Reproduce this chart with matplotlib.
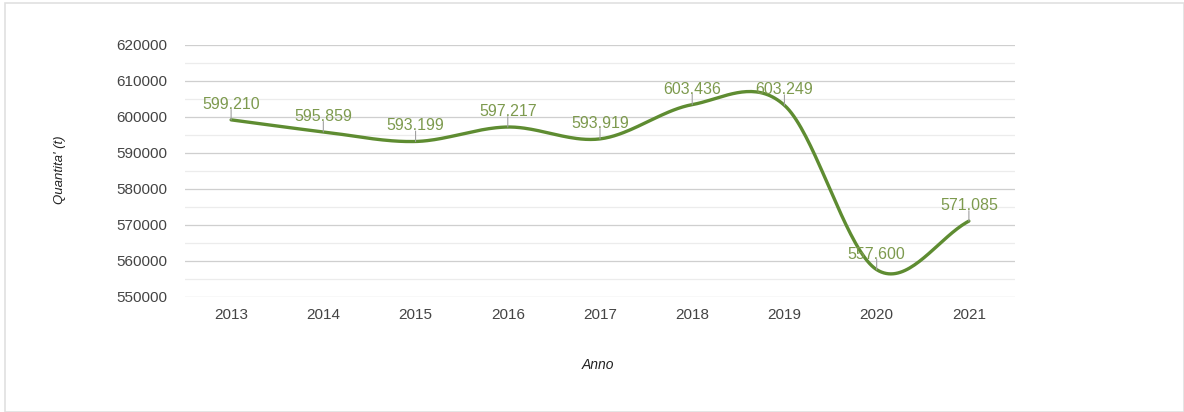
import numpy as np
import matplotlib
matplotlib.use("Agg")
import matplotlib.pyplot as plt
from matplotlib.patches import Rectangle

years = ["2013", "2014", "2015", "2016", "2017", "2018", "2019", "2020", "2021"]
quantities = [599210, 595859, 593199, 597217, 593919, 603436, 603249, 557600, 571085]


def smooth_line(x, y, n=40):
    # Catmull-Rom style cubic Hermite curve through the points, only for drawing
    x = np.asarray(x, float)
    y = np.asarray(y, float)
    m = np.gradient(y, x)
    xs_all, ys_all = [], []
    for i in range(len(x) - 1):
        h = x[i + 1] - x[i]
        t = np.linspace(0, 1, n)
        h00 = 2 * t**3 - 3 * t**2 + 1
        h10 = t**3 - 2 * t**2 + t
        h01 = -2 * t**3 + 3 * t**2
        h11 = t**3 - t**2
        xs_all.append(x[i] + t * h)
        ys_all.append(h00 * y[i] + h10 * h * m[i] + h01 * y[i + 1] + h11 * h * m[i + 1])
    return np.concatenate(xs_all), np.concatenate(ys_all)


plt.rcParams["font.family"] = ["Liberation Sans", "DejaVu Sans"]

fig = plt.figure(figsize=(11.84, 4.12), dpi=100, facecolor="white")
ax = fig.add_axes([185 / 1184, 1 - 297 / 412, 830 / 1184, 252 / 412])

pos = np.arange(len(years))
xs, ys = smooth_line(pos, quantities)
ax.plot(xs, ys, color="#5e8c31", lw=2.4, solid_capstyle="round", zorder=3)

for p, v in zip(pos, quantities):
    lab = f"{v:,}".replace(",", ".")
    ax.annotate("", xy=(p, v), xytext=(0, 7.5), textcoords="offset points",
                arrowprops=dict(arrowstyle="-", color="#a0a0a0", lw=0.8,
                                shrinkA=0, shrinkB=0))
    ax.annotate(lab, xy=(p, v), xytext=(0, 8), textcoords="offset points",
                ha="center", va="baseline", fontsize=11.5, color="#7d9a4e")

ax.set_xlim(-0.5, len(years) - 0.5)
ax.set_ylim(550000, 620000)
ax.set_xticks(pos)
ax.set_xticklabels(years)
ax.set_yticks(np.arange(550000, 620001, 10000))
ax.set_yticks(np.arange(555000, 620000, 10000), minor=True)
ax.tick_params(axis="both", which="both", length=0, labelsize=11, labelcolor="#444444")
ax.tick_params(axis="x", pad=8)
ax.tick_params(axis="y", pad=13)
ax.grid(axis="y", which="major", color="#cfcfcf", lw=0.9)
ax.grid(axis="y", which="minor", color="#ececec", lw=0.9)
ax.set_axisbelow(True)
for s in ax.spines.values():
    s.set_visible(False)

fig.text(60 / 1184, 1 - 170 / 412, "Quantita' (t)", rotation=90, ha="center",
         va="center", fontsize=9.5, style="italic", color="#222222")
fig.text(598 / 1184, 1 - 365 / 412, "Anno", ha="center", va="center",
         fontsize=10, style="italic", color="#222222")

fig.add_artist(Rectangle((5 / 1184, 0), 1 - 5 / 1184, 1 - 3 / 412,
                         transform=fig.transFigure, fill=False,
                         edgecolor="#e0e0e0", lw=1.2))

fig.savefig("out.png", dpi=100, facecolor="white")
plt.close(fig)
